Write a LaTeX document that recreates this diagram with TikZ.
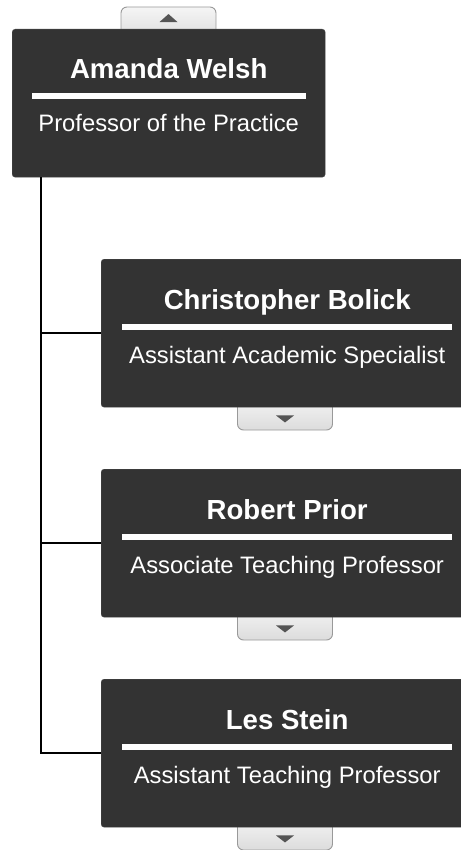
\documentclass[tikz,border=0pt]{standalone}
\usepackage{fontspec}
\setmainfont{Liberation Sans}
\usetikzlibrary{positioning}
\definecolor{boxgray}{HTML}{333333}
\definecolor{boxedge}{HTML}{4A4A4A}
\definecolor{btntop}{HTML}{F5F5F5}
\definecolor{btnbot}{HTML}{DCDCDC}
\definecolor{btnedge}{HTML}{999999}
\definecolor{arrowgray}{HTML}{555555}

\begin{document}
\begin{tikzpicture}[x=1pt,y=-1pt,
    personbox/.style={fill=boxgray,draw=boxedge,rounded corners=3pt,minimum height=148pt,inner sep=0pt,anchor=north west},
    btn/.style={draw=btnedge,line width=0.9pt,top color=btntop,bottom color=btnbot,rounded corners=6pt,minimum width=95pt,minimum height=33pt,inner sep=0pt},
    pname/.style={anchor=base,text=white,font=\bfseries\fontsize{27.6}{30}\selectfont},
    ptitle/.style={anchor=base,text=white,font=\fontsize{23.8}{28}\selectfont},
    link/.style={line width=1.6pt,black}]
    \useasboundingbox (0,0) rectangle (460,850);

    % Botones (detrás de las cajas)
    \node[btn] (upbtn) at (168.5,23.5) {};
    \node[btn] (b1) at (285,413.5) {};
    \node[btn] (b2) at (285,623.5) {};
    \node[btn] (b3) at (285,833.5) {};

    % Amanda Welsh
    \node[personbox,minimum width=313pt] (top) at (12,29) {};
    \node[pname] (topname) at ([yshift=-50pt]top.north) {Amanda Welsh};
    \fill[white] ([xshift=20pt,yshift=-64pt]top.north west) rectangle ([xshift=-19pt,yshift=-70pt]top.north east);
    \node[ptitle] (toptitle) at ([yshift=-103pt]top.north) {Professor of the Practice};

    % Christopher Bolick
    \node[personbox,minimum width=372pt] (c1) at (101,259) {};
    \node[pname] (c1name) at ([yshift=-50pt]c1.north) {Christopher Bolick};
    \fill[white] ([xshift=21pt,yshift=-65pt]c1.north west) rectangle ([xshift=-21pt,yshift=-71pt]c1.north east);
    \node[ptitle] (c1title) at ([yshift=-104pt]c1.north) {Assistant Academic Specialist};

    % Robert Prior
    \node[personbox,minimum width=372pt] (c2) at (101,469) {};
    \node[pname] (c2name) at ([yshift=-50pt]c2.north) {Robert Prior};
    \fill[white] ([xshift=21pt,yshift=-65pt]c2.north west) rectangle ([xshift=-21pt,yshift=-71pt]c2.north east);
    \node[ptitle] (c2title) at ([yshift=-104pt]c2.north) {Associate Teaching Professor};

    % Les Stein
    \node[personbox,minimum width=372pt] (c3) at (101,679) {};
    \node[pname] (c3name) at ([yshift=-50pt]c3.north) {Les Stein};
    \fill[white] ([xshift=21pt,yshift=-65pt]c3.north west) rectangle ([xshift=-21pt,yshift=-71pt]c3.north east);
    \node[ptitle] (c3title) at ([yshift=-104pt]c3.north) {Assistant Teaching Professor};

    % Flechas de los botones
    \fill[arrowgray] ([xshift=-9pt,yshift=-15.5pt]upbtn.north) -- ([xshift=9pt,yshift=-15.5pt]upbtn.north) -- ([yshift=-7.5pt]upbtn.north) -- cycle;
    \fill[arrowgray] ([xshift=-9pt,yshift=15pt]b1.south) -- ([xshift=9pt,yshift=15pt]b1.south) -- ([yshift=8pt]b1.south) -- cycle;
    \fill[arrowgray] ([xshift=-9pt,yshift=15pt]b2.south) -- ([xshift=9pt,yshift=15pt]b2.south) -- ([yshift=8pt]b2.south) -- cycle;
    \fill[arrowgray] ([xshift=-9pt,yshift=15pt]b3.south) -- ([xshift=9pt,yshift=15pt]b3.south) -- ([yshift=8pt]b3.south) -- cycle;

    % Conectores
    \coordinate (trunk) at ([xshift=29pt]top.south west);
    \draw[link] (trunk) |- (c3.west);
    \draw[link] (trunk |- c1.west) -- (c1.west);
    \draw[link] (trunk |- c2.west) -- (c2.west);
\end{tikzpicture}
\end{document}
